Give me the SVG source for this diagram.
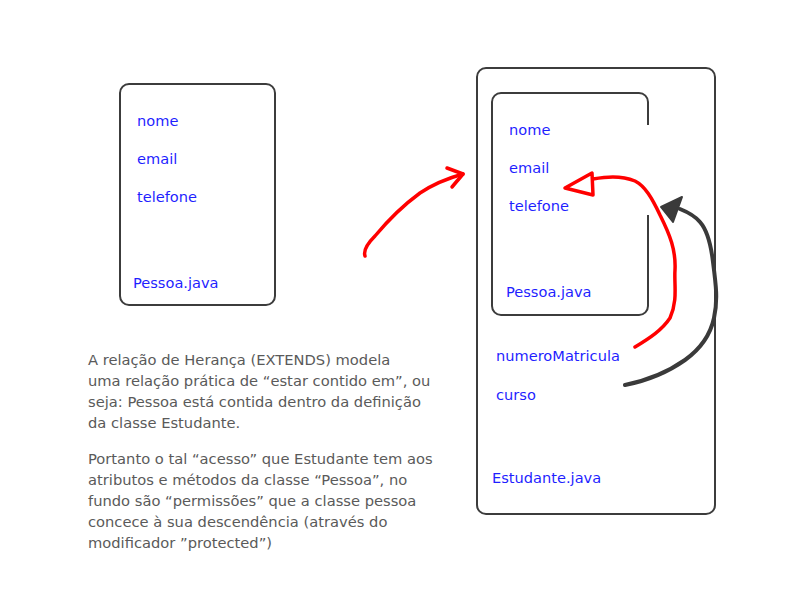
<svg xmlns="http://www.w3.org/2000/svg" width="800" height="600" viewBox="0 0 800 600">
<style>
.box{fill:none;stroke:#3c3c3c;stroke-width:2}
.lbl{font-family:"DejaVu Sans","Liberation Sans",sans-serif;font-size:14.6px;fill:#1f1fff}
.para{font-family:"DejaVu Sans","Liberation Sans",sans-serif;font-size:14.7px;fill:#5a5a5a}
.red{fill:none;stroke:#ff0000;stroke-width:3.5;stroke-linecap:round;stroke-linejoin:round}
.blk{fill:none;stroke:#3a3a3a;stroke-width:4;stroke-linecap:round;stroke-linejoin:round}
</style>
<rect width="800" height="600" fill="#ffffff"/>
<g id="pessoa">
<rect class="box" x="120" y="84" width="155" height="221" rx="9"/>
<text class="lbl" x="137" y="126">nome</text>
<text class="lbl" x="137" y="164">email</text>
<text class="lbl" x="137" y="202">telefone</text>
<text class="lbl" x="133" y="288">Pessoa.java</text>
</g>
<g id="estudante">
<rect class="box" x="477" y="68" width="238" height="446" rx="9"/>
<text class="lbl" x="496" y="361">numeroMatricula</text>
<text class="lbl" x="496" y="400">curso</text>
<text class="lbl" x="492" y="483">Estudante.java</text>
</g>
<g id="pessoa-inner">
<path class="box" d="M648,125 V102 a9,9 0 0 0 -9,-9 H501 a9,9 0 0 0 -9,9 V306 a9,9 0 0 0 9,9 H639 a9,9 0 0 0 9,-9 V215"/>
<text class="lbl" x="509" y="135">nome</text>
<text class="lbl" x="509" y="173">email</text>
<text class="lbl" x="509" y="211">telefone</text>
<text class="lbl" x="506" y="297">Pessoa.java</text>
</g>
<g id="texto">
<text class="para" x="88" y="365">A relação de Herança (EXTENDS) modela</text>
<text class="para" x="88" y="386">uma relação prática de “estar contido em”, ou</text>
<text class="para" x="88" y="407">seja: Pessoa está contida dentro da definição</text>
<text class="para" x="88" y="428">da classe Estudante.</text>
<text class="para" x="88" y="464">Portanto o tal “acesso” que Estudante tem aos</text>
<text class="para" x="88" y="485">atributos e métodos da classe “Pessoa”, no</text>
<text class="para" x="88" y="506">fundo são “permissões” que a classe pessoa</text>
<text class="para" x="88" y="527">concece à sua descendência (através do</text>
<text class="para" x="88" y="548">modificador ”protected”)</text>
</g>
<g id="connectors">
<path class="red" d="M365,256 C363,250 368,243 375,236 C390,218 405,204 420,193 C432,185 445,179 463,174"/>
<path class="red" d="M447,168 L463,174 L452,187"/>
<path class="red" d="M635,347 C650,338 662,330 670,318 C678,300 674,285 675,270 C676,250 670,235 660,215 C652,198 645,186 635,181 C620,175 605,177 593,179"/>
<path class="red" d="M565,188 L592,173 L593,195 Z"/>
<path class="blk" d="M625,385 C650,380 668,372 685,360 C703,347 711,332 714,318 C718,300 716,285 713,262 C711,245 707,230 700,222 C695,216 690,213 680,209"/>
<path d="M661,207 L682,197 L673,222 Z" fill="#3a3a3a" stroke="#3a3a3a" stroke-width="2" stroke-linejoin="round"/>
</g>
</svg>
